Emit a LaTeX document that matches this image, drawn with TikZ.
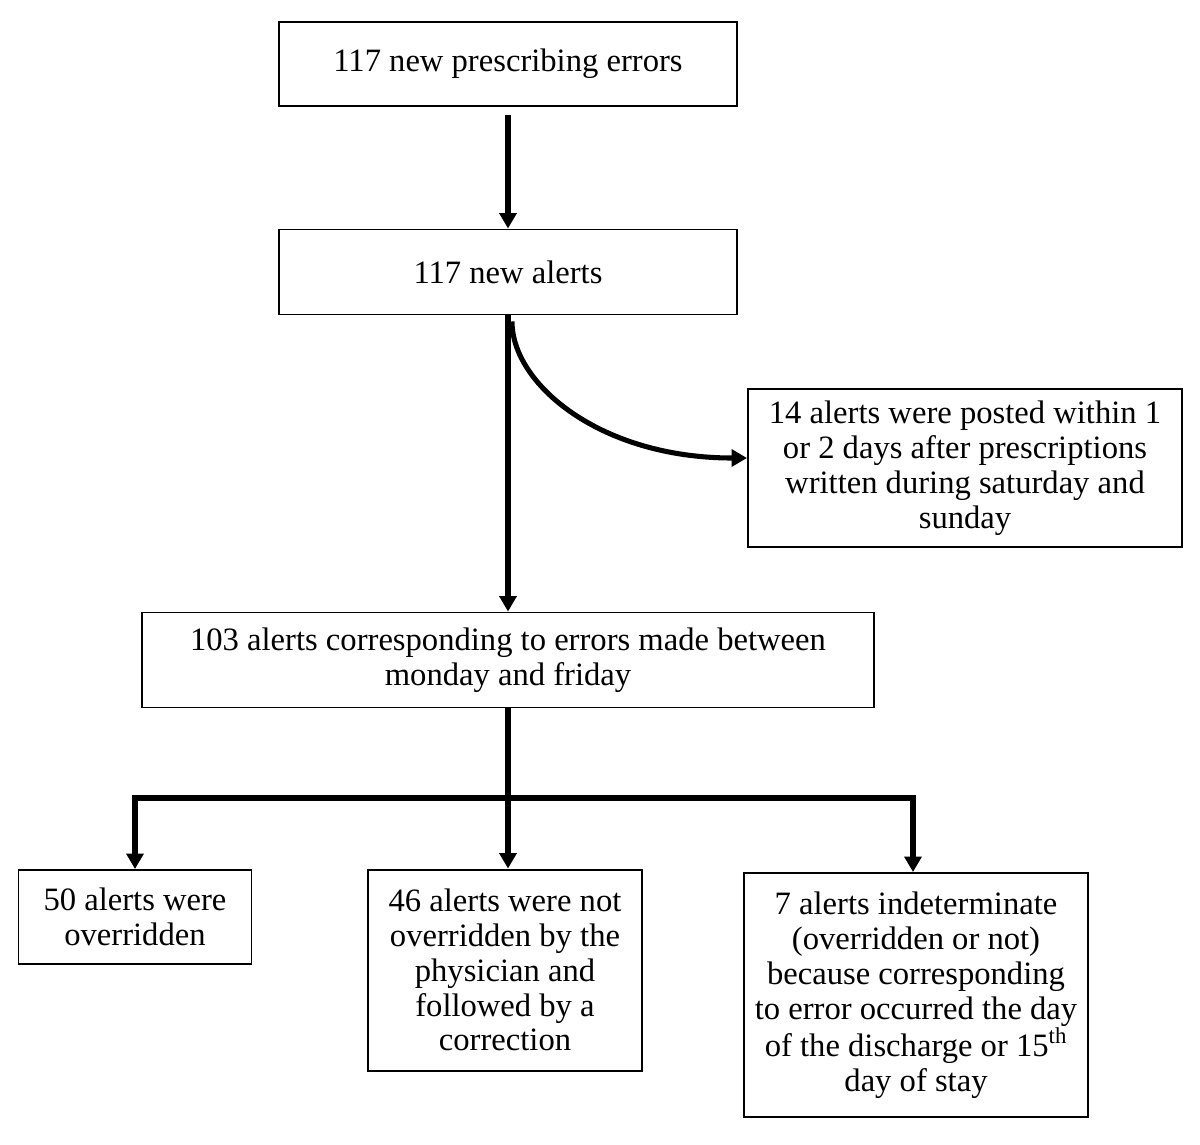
\documentclass[tikz,border=0pt]{standalone}
\usepackage{fontspec}
\setmainfont{Liberation Serif}
\usetikzlibrary{arrows.meta}

\begin{document}
\begin{tikzpicture}[
        box/.style={draw,line width=1.4pt,align=center,inner sep=0pt,font=\fontsize{23.2}{24.8}\selectfont},
        arr/.style={line width=3.6pt,-{Triangle[length=11pt,width=12pt]}}]
                \useasboundingbox (0,0) rectangle (30,-28.6);
                \node[box,minimum width=11.45cm,minimum height=2.1cm] (A) at (12.7,-1.6) {117 new prescribing errors};
                \node[box,minimum width=11.45cm,minimum height=2.125cm] (B) at (12.7,-6.8) {117 new alerts};
                \node[box,minimum width=10.85cm,minimum height=3.95cm] (C) at (24.125,-11.7) {14 alerts were posted within 1\\or 2 days after prescriptions\\written during saturday and\\sunday};
                \node[box,minimum width=18.3cm,minimum height=2.375cm] (D) at (12.7,-16.5) {103 alerts corresponding to errors made between\\monday and friday};
                \node[box,minimum width=5.825cm,minimum height=2.35cm] (E) at (3.375,-22.925) {50 alerts were\\overridden};
                \node[box,minimum width=6.85cm,minimum height=5.025cm] (F) at (12.625,-24.25) {46 alerts were not\\overridden by the\\physician and\\followed by a\\correction};
                \node[box,minimum width=8.6cm,minimum height=6.1cm] (G) at (22.9,-24.875) {7 alerts indeterminate\\(overridden or not)\\because corresponding\\to error occurred the day\\of the discharge or 15\textsuperscript{th}\\day of stay};
                \draw [arr] ([yshift=-0.2cm]A.south) -- (B);
                \draw [arr] (B) -- (D);
                \draw [arr] ([xshift=0.1cm,yshift=-0.15cm]B.south) .. controls (12.8,-9.6) and (15.0,-11.45) .. ([yshift=0.25cm]C.west);
                \coordinate (L) at (3.375,-19.95);
                \coordinate (R) at (22.825,-19.95);
                \draw [line width=3.6pt,line cap=rect] (L) -- (R);
                \draw [arr] (D) -- (D.south |- F.north);
                \draw [arr] (L) -- (E);
                \draw [arr] (R) -- (R |- G.north);
            \end{tikzpicture}
\end{document}
